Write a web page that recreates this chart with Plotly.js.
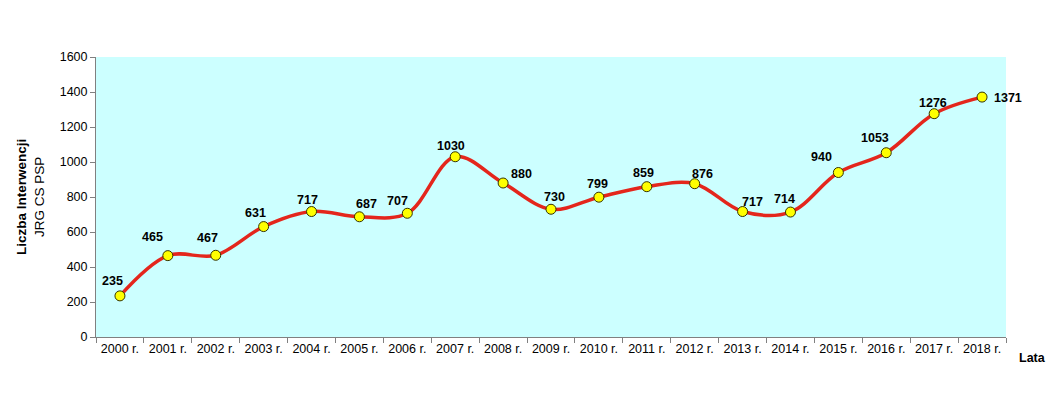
<!DOCTYPE html>
<html>
<head>
<meta charset="utf-8">
<script src="https://cdn.plot.ly/plotly-3.0.1.min.js"></script>
<style>html,body{margin:0;padding:0;background:#fff;}#chart{width:1057px;height:396px;}</style>
</head>
<body>
<div id="chart"></div>
<script>
var years = ["2000 r.","2001 r.","2002 r.","2003 r.","2004 r.","2005 r.","2006 r.","2007 r.","2008 r.","2009 r.","2010 r.","2011 r.","2012 r.","2013 r.","2014 r.","2015 r.","2016 r.","2017 r.","2018 r."];
var interventions = [235,465,467,631,717,687,707,1030,880,730,799,859,876,717,714,940,1053,1276,1371];
var yTicks = [0,200,400,600,800,1000,1200,1400,1600];

// label pixel offsets (dx, dy) relative to each point
var labelShift = [[-7,15],[-15,19],[-8,17],[-8,14],[-4,12],[7,13],[-10,12],[-4,11],[18,9],[3,12],[-1,13],[-3,14],[8,10],[10,10],[-6,13],[-17,16],[-11,15],[-1,11],[26,-1]];

var font = "Liberation Sans, Arial, sans-serif";

var annotations = years.map(function(c,i){
  return {x:c, y:interventions[i], xref:'x', yref:'y', text:'<b>'+interventions[i]+'</b>',
    showarrow:false, xshift:labelShift[i][0], yshift:labelShift[i][1],
    font:{family:font,size:12.5,color:'#000'}};
});
annotations.push({xref:'paper',yref:'paper',x:-0.0725,y:0.5,xanchor:'center',yanchor:'middle',
  textangle:-90,showarrow:false,
  text:'<b>Liczba Interwencji</b><br>JRG CS PSP',font:{family:font,size:13.5,color:'#000'}});
annotations.push({xref:'paper',yref:'paper',x:1.012,y:-0.075,xanchor:'left',yanchor:'middle',
  showarrow:false,text:'<b>Lata</b>',font:{family:font,size:12.5,color:'#000'}});

var trace = {
  x: years, y: interventions, type:'scatter', mode:'lines+markers',
  line:{color:'#e4261c', width:3.5, shape:'spline', smoothing:1},
  marker:{color:'#ffff00', size:10, line:{color:'#333300', width:1}},
  hoverinfo:'skip'
};

var layout = {
  width:1057, height:396,
  margin:{l:96, r:51, t:57, b:59},
  paper_bgcolor:'#ffffff', plot_bgcolor:'#ccffff',
  showlegend:false,
  font:{family:font,size:12.5,color:'#000'},
  xaxis:{type:'category', range:[-0.5,18.5], showgrid:false, zeroline:false,
    showline:true, linecolor:'#808080', linewidth:1,
    ticks:'outside', tickson:'boundaries', ticklen:5, tickcolor:'#808080',
    tickfont:{family:font,size:12.5,color:'#000'}},
  yaxis:{range:[0,1600], tickvals:yTicks, showgrid:false, zeroline:false,
    showline:true, linecolor:'#808080', linewidth:1,
    ticks:'outside', ticklen:5, tickcolor:'#808080',
    tickfont:{family:font,size:12.5,color:'#000'}},
  annotations: annotations
};

Plotly.newPlot('chart',[trace],layout,{staticPlot:true,displayModeBar:false});
</script>
</body>
</html>
